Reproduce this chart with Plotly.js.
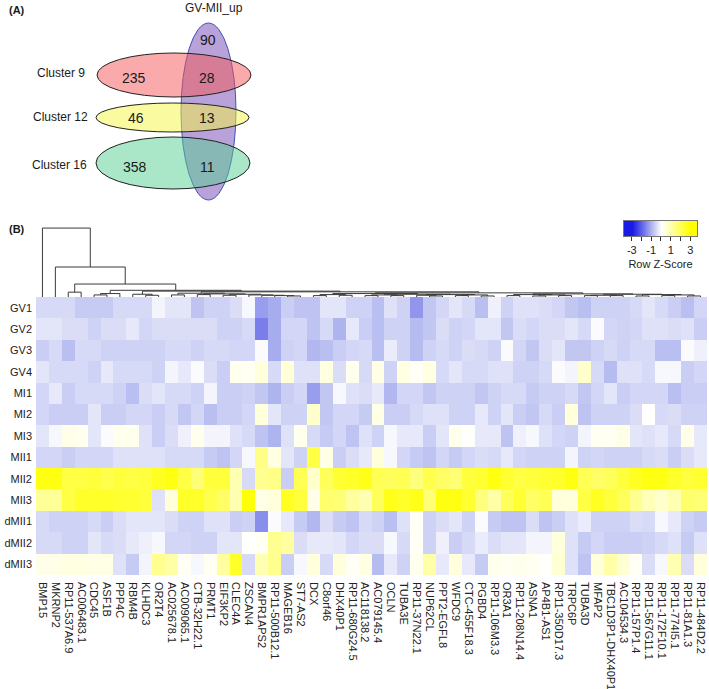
<!DOCTYPE html>
<html>
<head>
<meta charset="utf-8">
<script src="https://cdn.plot.ly/plotly-3.0.1.min.js"></script>
<style>
  html, body { margin: 0; padding: 0; background: #fff; }
  #chart { width: 709px; height: 689px; }
</style>
</head>
<body>
<div id="chart"></div>
<script>
// ---- panel A: Venn counts ----
const clusterNames = ['Cluster 9', 'Cluster 12', 'Cluster 16'];
const clusterOnly  = [235, 46, 358];
const sharedWithUp = [28, 13, 11];
const upSetName    = 'GV-MII_up';
const upOnly       = 90;

// ---- panel B: heatmap ----
const samples = ['GV1', 'GV2', 'GV3', 'GV4', 'MI1', 'MI2', 'MI3', 'MII1', 'MII2', 'MII3', 'dMII1', 'dMII2', 'dMII3'];
const genes = ['BMP15', 'MKRNP2', 'RP11-537A6.9', 'AC006483.1', 'CDC45', 'ASF1B', 'PPP4C', 'RBM4B', 'KLHDC3', 'OR2T4',
  'AC025678.1', 'AC009065.1', 'CTB-32H22.1', 'PRMT1', 'EIF3KP2', 'CLEC4A', 'ZSCAN4', 'BMPR1APS2', 'RP11-500B12.1', 'MAGEB16',
  'ST7-AS2', 'DCX', 'C8orf46', 'DHX40P1', 'RP11-680G24.5', 'AC118138.2', 'AC079145.4', 'OCLN', 'TUBA3E', 'RP11-37N22.1',
  'NUP62CL', 'PPT2-EGFL8', 'WFDC9', 'CTC-455F18.3', 'PGBD4', 'RP11-106M3.3', 'OR3A1', 'RP11-208N14.4', 'ASNA1', 'AP4B1-AS1',
  'RP11-350D17.3', 'TRPC6P', 'TUBA3D', 'MFAP2', 'TBC1D3P1-DHX40P1', 'AC104534.3', 'RP11-157P1.4', 'RP11-567G11.1', 'RP11-172F10.1', 'RP11-774I5.1',
  'RP11-81A1.3', 'RP11-484D2.2'];

// row z-scores, one array per sample (52 genes each)
const gv1 = [-0.5,-0.5,-0.5,-0.7,-0.7,-0.7,-0.5,-0.5,-0.5,-0.15,-0.35,-0.35,-0.8,
  -0.6,-0.6,-0.45,-0.1,-1.3,-1.1,-0.65,-0.8,-0.8,-0.35,-0.35,-0.6,-0.6,
  -0.85,-0.4,-0.6,-1.4,-0.75,-0.55,-0.35,-0.5,-0.85,-0.2,-0.6,-0.4,-0.4,
  -0.45,-0.55,-0.75,-0.85,-0.6,-0.6,-0.6,-0.5,-0.35,-0.5,-0.65,-0.85,-0.55];
const gv2 = [-0.35,-0.35,-0.45,-0.45,-0.6,-0.45,-0.45,-0.3,-0.55,-0.45,-0.45,-0.45,-0.45,
  -0.45,-0.6,-0.6,-0.5,-1.7,-1.1,-0.55,-0.55,-0.8,-0.5,-1.0,-0.3,-0.65,
  -0.85,-0.6,-0.6,-0.9,-0.75,-0.45,-0.6,-0.55,-0.35,-0.35,-0.75,-0.45,-0.55,
  -0.45,-0.45,-0.35,-0.5,-0.05,-0.55,-0.6,-0.55,-0.4,-0.4,-0.45,-0.4,-0.65];
const gv3 = [-0.65,-0.5,-0.85,-0.5,-0.5,-0.6,-0.6,-0.6,-0.6,-0.6,-0.5,-0.5,-0.6,
  -0.5,-0.5,-0.55,-0.55,-0.05,-1.1,-0.6,-0.55,-0.95,-0.85,-0.65,-0.55,-0.5,
  -0.85,-0.25,-0.6,-0.9,-0.6,-0.5,-0.6,-0.45,-0.5,-0.6,-0.05,-0.55,-0.75,
  -0.45,-0.35,-0.75,-0.75,-0.6,-0.5,-0.6,-0.5,-0.5,-0.85,-0.85,-0.05,-0.2];
const gv4 = [-0.35,-0.5,-0.5,-0.5,-0.6,-0.3,-0.5,-0.5,-0.5,-0.6,-0.15,-0.3,-0.05,
  -0.45,-0.65,0.2,0.15,0.4,-0.5,0.45,-0.4,-0.4,0.35,-0.45,0.2,-0.5,
  0.3,-0.6,0.35,0.1,0.35,-0.5,-0.35,-0.5,-0.5,-0.4,-0.4,-0.6,-0.6,
  -0.5,-0.05,-0.15,0.6,-0.5,-0.9,-0.4,-0.4,-0.5,-0.1,-0.1,-0.65,-0.55];
const mi1 = [-0.55,-0.3,-0.65,-0.5,-0.5,-0.5,-0.6,-0.85,-0.45,-0.35,-0.5,-0.5,-0.6,
  -0.15,-0.65,-0.65,-0.6,-0.75,-1.0,-0.65,-0.55,-1.3,-0.75,-0.1,-0.4,-0.45,
  -0.3,-0.95,-0.55,-0.55,-0.75,-0.6,-0.6,-0.6,-0.75,-0.6,-0.5,-0.5,-0.7,
  -0.6,-0.6,-0.5,-0.75,-0.55,-0.35,-0.65,-0.55,-0.55,-0.55,-0.85,-0.65,-0.65];
const mi2 = [-0.55,-0.65,-0.65,-0.65,-0.35,-0.65,-0.65,-0.55,-0.55,-0.65,-0.5,-0.75,-0.55,
  -0.85,-0.65,-0.65,-0.55,0.4,-0.35,-0.6,-0.6,0.6,-0.75,-0.55,-0.55,-0.7,
  0.3,-0.65,-0.65,-0.5,-0.4,-0.4,-0.6,-0.6,-0.3,-0.6,-0.35,-0.65,-0.75,
  -0.5,-0.65,0.4,-0.8,-0.6,-0.6,-0.6,-0.45,0.0,-0.5,-0.45,-0.6,-0.6];
const mi3 = [-0.35,-0.1,0.25,0.2,-0.35,-0.05,0.2,0.2,-0.4,-0.65,-0.45,-0.2,0.2,
  -0.15,-0.15,-0.4,-0.5,-0.8,-1.0,-0.4,0.2,-0.5,-0.7,-0.55,-0.8,-0.4,
  -0.6,-0.1,-0.3,-0.3,-0.65,-0.35,0.2,0.05,-0.3,-0.3,-0.8,-0.2,-0.1,
  -0.4,-0.55,-0.6,-0.15,0.15,0.15,0.25,-0.35,-0.4,-0.3,-0.5,0.25,-0.3];
const mii1 = [-0.55,-0.55,-0.65,-0.55,-0.55,-0.55,-0.4,-0.4,-0.4,-0.4,-0.5,-0.5,-0.5,
  -0.7,-0.8,-0.55,-0.1,1.4,0.35,-0.35,-0.6,2.2,0.3,-0.65,-0.45,-0.3,
  0.4,-0.1,-0.55,-0.7,-0.8,-0.55,-0.7,-0.55,-0.45,-0.5,-0.3,-0.55,-0.6,
  -0.6,-0.6,-0.15,-0.6,-0.55,-0.6,-0.6,-0.6,-0.5,-0.45,-0.65,-0.45,-0.3];
const mii2 = [2.8,2.8,2.2,2.2,2.3,2.1,2.3,2.2,2.3,2.6,2.8,2.2,1.6,
  2.3,2.3,0.9,-0.5,1.3,1.4,-0.65,2.0,0.6,1.9,2.4,2.5,2.7,
  2.0,1.9,2.0,1.5,2.1,1.8,1.6,2.3,2.4,2.8,2.4,2.2,2.3,
  2.4,2.5,2.8,2.0,1.8,1.9,2.3,2.6,2.8,2.8,2.5,2.3,2.4];
const mii3 = [1.2,1.2,2.2,2.5,2.5,2.5,2.4,2.4,2.3,-0.4,0.4,2.5,2.5,
  2.1,1.8,0.9,2.9,0.3,0.4,2.6,2.3,0.25,1.7,1.6,1.1,0.9,
  1.9,2.7,2.5,2.7,1.6,2.8,2.8,2.4,1.5,1.0,1.9,2.4,1.8,
  2.0,0.4,0.4,2.2,2.6,2.3,1.9,1.3,0.8,0.6,0.9,1.7,1.6];
const dmii1 = [-0.5,-0.6,-0.6,-0.6,-0.5,-0.65,-0.45,-0.35,-0.35,-0.35,-0.45,-0.6,-0.6,
  -0.4,-0.4,-0.65,-0.6,-1.5,-0.05,-0.3,-0.7,-0.95,-0.45,-0.7,-0.8,-0.5,
  -0.6,-0.85,-0.4,0.1,-0.6,-0.45,-0.35,-0.6,-0.05,-0.7,-0.8,-0.8,-0.45,
  -0.8,-0.65,-0.4,-0.25,-0.6,-0.6,-0.6,-0.45,-0.5,-0.1,-0.3,-0.6,-0.7];
const dmii2 = [-0.5,-0.5,-0.6,-0.6,-0.35,-0.5,-0.45,-0.3,-0.2,-0.1,-0.55,-0.55,-0.6,
  -0.6,-0.35,-0.35,0.05,0.15,1.3,1.1,-0.45,-0.3,-0.3,-0.35,-0.55,-0.45,
  -0.45,-0.1,-0.5,0.1,-0.6,-0.2,-0.65,-0.5,-0.25,-0.45,-0.35,-0.35,-0.15,
  -0.15,0.4,-0.4,-0.7,-0.55,-0.65,-0.65,-0.65,-0.6,-0.5,-0.4,-0.7,-0.4];
const dmii3 = [0.25,0.25,0.35,0.35,0.3,0.3,-0.4,-0.7,-0.15,1.3,1.0,0.1,-0.1,
  0.15,1.1,2.5,-0.5,0.9,1.3,-0.65,-0.1,0.4,-0.5,0.4,0.1,0.35,
  -0.9,-0.3,-0.6,0.2,1.0,-0.3,0.4,-0.3,-0.7,0.2,0.15,0.2,0.15,
  0.05,0.5,-0.4,-0.8,0.4,1.0,0.5,0.1,-0.45,-0.1,0.9,-0.45,0.4];

// column dendrogram: [left, right, height], leaves = gene index
const geneTree = [0, [1, [[2, 3, 0.7],
  [[[4, 5, 0.3], 6, 0.5],
   [[7, [8, 9, 0.25], 0.4],
    [[[10, 11, 0.3], [[12, 13, 0.35], [[14, 15, 0.25], [16, [17, [18, [19, 20, 0.15], 0.2], 0.25], 0.3], 0.4], 0.45], 0.55],
     [[[[21, 22, 0.2], [23, 24, 0.25], 0.35], [[[25, 26, 0.2], [27, 28, 0.2], 0.3], [[29, [30, 31, 0.15], 0.25], [[32, 33, 0.2], [34, 35, 0.15], 0.3], 0.35], 0.4], 0.5],
      [[[36, 37, 0.2], [[38, 39, 0.15], [40, 41, 0.2], 0.3], 0.35], [[[42, 43, 0.2], [44, 45, 0.2], 0.25], [[46, 47, 0.15], [[48, 49, 0.2], [50, 51, 0.15], 0.3], 0.35], 0.4], 0.45], 0.6], 0.75], 0.85], 0.97], 1.88], 4.35], 10];

const keyTicks = [-4, -3, -2, -1, 0, 1, 2, 3, 4];

// ---- helpers ----
const W = 709, H = 689;
const px = v => v / W;
const py = v => 1 - v / H;
const FONT = 'Liberation Sans, Arial, sans-serif';

const dx = [], dy = [];
function walk(n) {
  if (typeof n === 'number') return { x: n, h: 0 };
  const a = walk(n[0]), b = walk(n[1]), h = n[2];
  dx.push(a.x, a.x, b.x, b.x, null);
  dy.push(a.h, h, h, b.h, null);
  return { x: (a.x + b.x) / 2, h };
}
walk(geneTree);

// blue - white - yellow, blue side softened like the source
const zscale = [
  [0, '#1a1ae6'], [0.333, '#aeb4ee'], [0.5, '#ffffff'],
  [0.667, '#ffffa8'], [1, '#ffff00'],
];

const traces = [
  {
    type: 'heatmap',
    x: genes, y: samples,
    z: [gv1, gv2, gv3, gv4, mi1, mi2, mi3, mii1, mii2, mii3, dmii1, dmii2, dmii3],
    zmin: -3, zmax: 3,
    colorscale: zscale,
    showscale: false,
    xaxis: 'x', yaxis: 'y',
  },
  {
    type: 'scatter', mode: 'lines',
    x: dx, y: dy,
    line: { color: '#3a3a3a', width: 1 },
    xaxis: 'x2', yaxis: 'y2',
    hoverinfo: 'skip',
  },
  {
    type: 'heatmap',
    x: keyTicks, y: [0],
    z: [keyTicks],
    zmin: -3, zmax: 3,
    zsmooth: 'best',
    colorscale: zscale,
    showscale: false,
    xaxis: 'x4', yaxis: 'y4',
  },
];

// Venn geometry (pixel space)
function ellipse(cx, cy, rx, ry, fill, line) {
  return {
    type: 'circle', xref: 'paper', yref: 'paper',
    x0: px(cx - rx), x1: px(cx + rx), y0: py(cy + ry), y1: py(cy - ry),
    fillcolor: fill, line: { color: line, width: 1 }, layer: 'above',
  };
}
const shapes = [
  ellipse(208.5, 111.5, 27.5, 88.5, 'rgba(125,85,185,0.55)', '#3d55b0'),
  ellipse(174, 75, 77, 22, 'rgba(245,85,85,0.5)', '#222'),
  ellipse(172.5, 117.5, 76.5, 14.5, 'rgba(245,245,65,0.5)', '#222'),
  ellipse(173, 163, 77, 26, 'rgba(85,205,145,0.5)', '#222'),
];

function note(text, x, y, size, anchor, bold) {
  return {
    text: bold ? '<b>' + text + '</b>' : text,
    xref: 'paper', yref: 'paper', x: px(x), y: py(y),
    xanchor: anchor || 'center', yanchor: 'middle',
    showarrow: false, font: { family: FONT, size, color: '#1a1a1a' },
  };
}
const rowY = [73, 117, 165];
const labelX = [87, 90, 89];
const onlyX = [134, 136, 135];
const sharedY = [78, 118, 167];
const annotations = [
  note('(A)', 7, 10, 11, 'left', true),
  note('(B)', 7, 229, 11, 'left', true),
  note(upSetName, 214, 8, 12),
  note(String(upOnly), 208, 40, 14),
];
clusterNames.forEach((name, i) => {
  annotations.push(note(name, labelX[i], rowY[i], 12, 'right'));
  annotations.push(note(String(clusterOnly[i]), onlyX[i], sharedY[i], 14));
  annotations.push(note(String(sharedWithUp[i]), 207, sharedY[i], 14));
});

const hmX = [px(36), px(707)];
const layout = {
  width: W, height: H,
  margin: { t: 0, r: 0, b: 0, l: 0 },
  paper_bgcolor: '#fff',
  plot_bgcolor: 'rgba(0,0,0,0)',
  font: { family: FONT, size: 11, color: '#222' },
  showlegend: false,
  xaxis: {
    domain: hmX, anchor: 'y',
    tickmode: 'array', tickvals: genes, ticktext: genes,
    tickangle: 90, ticks: '', showgrid: false, zeroline: false,
    ticklabelstandoff: 6,
    tickfont: { size: 11, color: '#222' },
  },
  yaxis: {
    domain: [py(575), py(297)], anchor: 'x',
    autorange: 'reversed', ticks: '', showgrid: false, zeroline: false,
    ticklabelstandoff: 3,
    tickfont: { size: 11, color: '#222' },
  },
  xaxis2: {
    domain: hmX, anchor: 'y2', range: [-0.5, 51.5],
    visible: false,
  },
  yaxis2: {
    domain: [py(297), py(226)], anchor: 'x2', range: [0, 10.3],
    visible: false,
  },
  xaxis4: {
    domain: [px(624), px(697)], anchor: 'y4', range: [-3.8, 3.7],
    tickvals: [-3, -2, -1, 0, 1, 2, 3],
    ticktext: ['-3', '', '-1', '', '1', '', '3'],
    ticks: 'outside', ticklen: 4, tickcolor: '#333',
    showline: true, mirror: true, linecolor: '#777', linewidth: 1,
    showgrid: false, zeroline: false,
    tickfont: { size: 11, color: '#222' },
    title: { text: 'Row Z-Score', font: { size: 11, color: '#222' }, standoff: 5 },
  },
  yaxis4: {
    domain: [py(236), py(221)], anchor: 'x4', range: [-0.5, 0.5],
    showticklabels: false, ticks: '',
    showline: true, mirror: true, linecolor: '#777', linewidth: 1,
    showgrid: false, zeroline: false,
  },
  shapes,
  annotations,
};

Plotly.newPlot('chart', traces, layout, { displayModeBar: false, staticPlot: true });
</script>
</body>
</html>
